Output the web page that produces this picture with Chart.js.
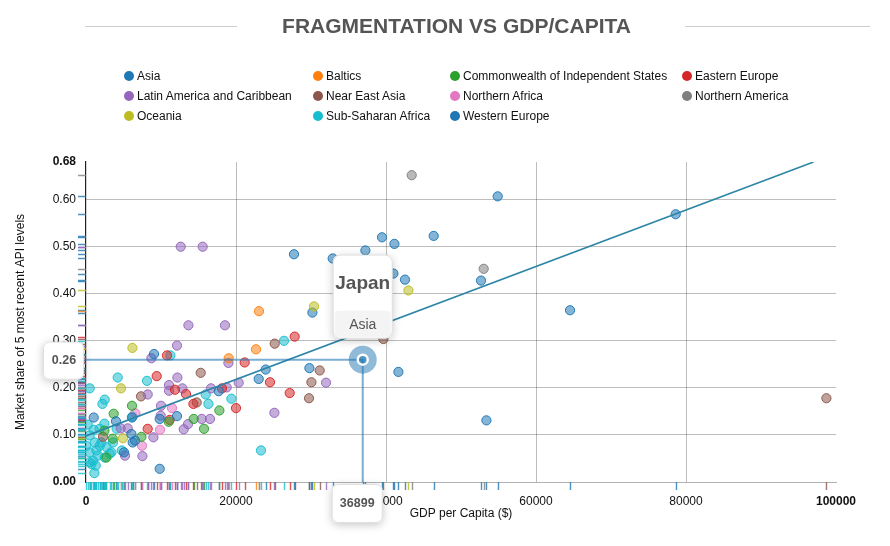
<!DOCTYPE html>
<html>
<head>
<meta charset="utf-8">
<script src="https://cdn.jsdelivr.net/npm/chart.js@4/dist/chart.umd.min.js"></script>
<style>
  body { margin: 0; background: #fff; font-family: 'Liberation Sans', Arial, sans-serif; }
  #wrap { position: relative; width: 890px; height: 546px; overflow: hidden; }
  #chart { position: absolute; left: 0; top: 0; }
  #title { position: absolute; left: 0; width: 913px; top: 15px; text-align: center; font-size: 21px; line-height: 22px; font-weight: bold; color: #555; }
  .rule { position: absolute; height: 1px; top: 26px; background: #ccc; }
  .item { position: absolute; font-size: 12px; line-height: 14px; color: #111; white-space: nowrap; }
  .item i { position: absolute; left: 0; top: 2px; width: 10px; height: 10px; border-radius: 50%; }
  .item span { margin-left: 13px; }
</style>
</head>
<body>
<div id="wrap">
  <canvas id="chart" width="890" height="546"></canvas>
  <div class="rule" style="left:85px;width:152px"></div>
  <div class="rule" style="left:685px;width:185px"></div>
  <div id="title">FRAGMENTATION VS GDP/CAPITA</div>
  <div id="legend"></div>
</div>
<script>
const regions = ['Asia', 'Baltics', 'Commonwealth of Independent States', 'Eastern Europe',
  'Latin America and Caribbean', 'Near East Asia', 'Northern Africa', 'Northern America',
  'Oceania', 'Sub-Saharan Africa', 'Western Europe'];
const colors = ['#1f77b4', '#ff7f0e', '#2ca02c', '#d62728', '#9467bd', '#8c564b',
  '#e377c2', '#7f7f7f', '#bcbd22', '#17becf', '#1f77b4'];

// [GDP per capita, market share]
const asia = [[36899, 0.26], [64533, 0.365], [53387, 0.131], [41653, 0.234], [23960, 0.239],
  [23027, 0.219], [17693, 0.193], [12133, 0.140], [9827, 0.134], [9067, 0.272], [6133, 0.137],
  [4000, 0.129], [1027, 0.137], [6533, 0.088], [6227, 0.084], [6053, 0.102], [5067, 0.063], [9827, 0.028]];
const baltics = [[23067, 0.363], [22667, 0.282], [19027, 0.263]];
const cis = [[3693, 0.145], [6133, 0.162], [7387, 0.096], [11027, 0.128], [14360, 0.134],
  [15733, 0.113], [17787, 0.152], [2453, 0.109], [2720, 0.052], [3560, 0.092]];
const easternEurope = [[27827, 0.309], [21160, 0.254], [24533, 0.212], [27160, 0.189], [20000, 0.157],
  [18133, 0.199], [13333, 0.187], [14320, 0.166], [11867, 0.196], [10800, 0.269], [9427, 0.225],
  [11160, 0.132], [8227, 0.113]];
const latinAmerica = [[12627, 0.50], [15560, 0.50], [13653, 0.333], [18533, 0.333], [12133, 0.290],
  [8720, 0.263], [18987, 0.253], [12187, 0.222], [20360, 0.211], [11067, 0.206], [11067, 0.194],
  [12853, 0.199], [8227, 0.186], [16667, 0.199], [18760, 0.201], [32000, 0.211], [10000, 0.162],
  [9960, 0.141], [13600, 0.123], [13027, 0.112], [15427, 0.134], [16533, 0.134], [8987, 0.095],
  [7520, 0.055], [5200, 0.056], [4627, 0.114], [5560, 0.114], [25120, 0.147]];
const nearEastAsia = [[25160, 0.294], [39653, 0.304], [15293, 0.232], [7333, 0.182], [14760, 0.169],
  [30053, 0.212], [31160, 0.237], [29733, 0.178], [98720, 0.178], [2267, 0.096]];
const northernAfrica = [[6587, 0.146], [11467, 0.157], [9867, 0.111], [7467, 0.077]];
const northernAmerica = [[43427, 0.652], [53027, 0.453]];
const oceania = [[6187, 0.285], [4667, 0.199], [30400, 0.373], [42987, 0.407], [4933, 0.093]];
const subSaharan = [[2493, 0.175], [2187, 0.166], [4227, 0.222], [8133, 0.215], [493, 0.199],
  [11253, 0.269], [15960, 0.186], [16320, 0.166], [19387, 0.177], [26400, 0.300], [23333, 0.067],
  [1827, 0.113], [1027, 0.111], [1160, 0.084], [1827, 0.077], [3160, 0.060], [493, 0.063],
  [933, 0.045], [493, 0.042], [1600, 0.056], [2493, 0.052], [3387, 0.063], [493, 0.099],
  [53, 0.077], [2053, 0.084], [1387, 0.067], [3600, 0.084], [2720, 0.074], [720, 0.038],
  [1293, 0.035], [1120, 0.019], [4760, 0.067], [6187, 0.139], [2453, 0.124], [227, 0.122], [4093, 0.113]];
const westernEurope = [[54893, 0.607], [78627, 0.569], [46360, 0.523], [39467, 0.520], [41120, 0.506],
  [27733, 0.484], [37253, 0.492], [32893, 0.475], [40987, 0.443], [42533, 0.430], [52667, 0.428],
  [30187, 0.360], [29787, 0.242]];

const seriesPoints = [asia, baltics, cis, easternEurope, latinAmerica, nearEastAsia,
  northernAfrica, northernAmerica, oceania, subSaharan, westernEurope];

// regression line end points
const trendX = [0, 97000];
const trendY = [0.098, 0.68];

const xTicks = [0, 20000, 40000, 60000, 80000, 100000];
const yTicks = [0, 0.1, 0.2, 0.3, 0.4, 0.5, 0.6, 0.68];

// highlighted point (tooltip)
const highlight = { region: 'Asia', index: 0, name: 'Japan' };

function rgba(hex, a) {
  const n = parseInt(hex.slice(1), 16);
  return 'rgba(' + (n >> 16) + ',' + ((n >> 8) & 255) + ',' + (n & 255) + ',' + a + ')';
}

// legend
const legend = document.getElementById('legend');
const colX = [129, 318, 455, 687];
const rowY = [76, 96, 116];
regions.forEach(function (r, i) {
  const d = document.createElement('div');
  d.className = 'item';
  d.style.left = (colX[i % 4] - 5) + 'px';
  d.style.top = (rowY[Math.floor(i / 4)] - 7) + 'px';
  d.innerHTML = '<i style="background:' + colors[i] + '"></i><span>' + r + '</span>';
  legend.appendChild(d);
});

const FONT = "'Liberation Sans', Arial, sans-serif";

const datasets = [{
  type: 'line',
  label: 'trend',
  data: trendX.map((x, i) => ({ x: x, y: trendY[i] })),
  borderColor: '#2c86a6',
  borderWidth: 1.6,
  pointRadius: 0,
  fill: false
}];
regions.forEach(function (r, i) {
  datasets.push({
    label: r,
    data: seriesPoints[i].map(p => ({ x: p[0], y: p[1] })),
    backgroundColor: rgba(colors[i], 0.55),
    borderColor: rgba(colors[i], 0.95),
    borderWidth: 1,
    pointRadius: 4.6
  });
});

const rugPlugin = {
  id: 'rug',
  beforeDatasetsDraw(chart) {
    const { ctx, chartArea, scales } = chart;
    ctx.save();
    ctx.lineWidth = 1.4;
    chart.data.datasets.forEach(function (ds) {
      if (ds.type === 'line') return;
      ctx.strokeStyle = ds.backgroundColor.replace(/[\d.]+\)$/, '0.8)');
      ds.data.forEach(function (p) {
        const px = Math.round(scales.x.getPixelForValue(p.x)) + 0.5;
        const py = Math.round(scales.y.getPixelForValue(p.y)) + 0.5;
        ctx.beginPath();
        ctx.moveTo(px, chartArea.bottom);
        ctx.lineTo(px, chartArea.bottom + 8);
        ctx.moveTo(chartArea.left - 8, py);
        ctx.lineTo(chartArea.left, py);
        ctx.stroke();
      });
    });
    ctx.restore();
  }
};

function roundBox(ctx, x, y, w, h, r, fill, shadow) {
  ctx.save();
  if (shadow) {
    ctx.shadowColor = 'rgba(0,0,0,0.22)';
    ctx.shadowBlur = 8;
    ctx.shadowOffsetY = 2;
  }
  ctx.beginPath();
  ctx.roundRect(x, y, w, h, r);
  ctx.fillStyle = fill;
  ctx.fill();
  ctx.restore();
  ctx.save();
  ctx.beginPath();
  ctx.roundRect(x + 0.5, y + 0.5, w - 1, h - 1, r);
  ctx.strokeStyle = 'rgba(0,0,0,0.12)';
  ctx.lineWidth = 1;
  ctx.stroke();
  ctx.restore();
}

const guidePlugin = {
  id: 'guide',
  afterDraw(chart) {
    const { ctx, chartArea, scales } = chart;
    const ri = regions.indexOf(highlight.region);
    const p = seriesPoints[ri][highlight.index];
    const px = scales.x.getPixelForValue(p[0]);
    const py = scales.y.getPixelForValue(p[1]);
    const col = colors[ri];
    ctx.save();
    // guide lines
    ctx.strokeStyle = rgba(col, 0.6);
    ctx.lineWidth = 2;
    ctx.beginPath();
    ctx.moveTo(chartArea.left, py);
    ctx.lineTo(px, py);
    ctx.lineTo(px, chartArea.bottom);
    ctx.stroke();
    // highlighted point
    ctx.fillStyle = rgba(col, 0.5);
    ctx.beginPath(); ctx.arc(px, py, 14, 0, Math.PI * 2); ctx.fill();
    ctx.strokeStyle = '#fff';
    ctx.lineWidth = 2.5;
    ctx.beginPath(); ctx.arc(px, py, 5, 0, Math.PI * 2); ctx.stroke();
    ctx.restore();

    // axis value boxes
    ctx.save();
    roundBox(ctx, 43, py - 18, 41, 38, 6, '#fff', true);
    roundBox(ctx, px - 31, chartArea.bottom + 2, 51, 39, 6, '#fff', true);
    ctx.fillStyle = '#555';
    ctx.font = 'bold 12.5px ' + FONT;
    ctx.textAlign = 'center';
    ctx.textBaseline = 'middle';
    ctx.fillText(p[1].toFixed(2), 64, py + 1);
    ctx.fillText(String(p[0]), px - 5.5, chartArea.bottom + 22);

    // tooltip
    const tx = px - 30, ty = py - 105;
    roundBox(ctx, tx, ty, 60, 84, 7, '#fff', true);
    ctx.fillStyle = '#f4f4f4';
    ctx.beginPath();
    ctx.roundRect(tx + 2, ty + 56, 56, 26, 4);
    ctx.fill();
    ctx.fillStyle = '#555';
    ctx.font = 'bold 19px ' + FONT;
    ctx.fillText(highlight.name, px, ty + 29);
    ctx.font = '14px ' + FONT;
    ctx.fillText(highlight.region, px, ty + 70);
    ctx.restore();
  }
};

const gridColor = 'rgba(0,0,0,0.26)';

new Chart(document.getElementById('chart'), {
  type: 'scatter',
  data: { datasets: datasets },
  options: {
    responsive: false,
    animation: false,
    devicePixelRatio: 1,
    layout: { padding: { top: 162, right: 54, left: 0, bottom: 0 } },
    plugins: { legend: { display: false }, tooltip: { enabled: false } },
    scales: {
      x: {
        type: 'linear',
        min: 0,
        max: 100000,
        afterBuildTicks: (scale) => { scale.ticks = xTicks.map(v => ({ value: v })); },
        afterFit: (scale) => { scale.height = 64; },
        grid: {
          drawTicks: false,
          color: (c) => (c.tick && (c.tick.value === 0 || c.tick.value === 100000)) ? 'rgba(0,0,0,0)' : gridColor
        },
        border: { color: 'rgba(0,0,0,0.3)', width: 1 },
        ticks: {
          padding: 12,
          color: '#111',
          maxRotation: 0,
          callback: (v) => String(v),
          font: (c) => ({ family: FONT, size: 12, weight: (c.tick && (c.tick.value === 0 || c.tick.value === 100000)) ? 'bold' : 'normal' })
        },
        title: {
          display: true,
          text: 'GDP per Capita ($)',
          color: '#111',
          font: { family: FONT, size: 12 },
          padding: { top: 0, bottom: 25 }
        }
      },
      y: {
        min: 0,
        max: 0.68,
        afterBuildTicks: (scale) => { scale.ticks = yTicks.map(v => ({ value: v })); },
        afterFit: (scale) => { scale.width = 86; },
        grid: {
          drawTicks: false,
          color: (c) => (c.tick && (c.tick.value === 0 || c.tick.value === 0.68)) ? 'rgba(0,0,0,0)' : gridColor
        },
        border: { color: '#222', width: 1.2 },
        ticks: {
          padding: 10,
          color: '#111',
          callback: (v) => v.toFixed(2),
          font: (c) => ({ family: FONT, size: 12, weight: (c.tick && (c.tick.value === 0 || c.tick.value === 0.68)) ? 'bold' : 'normal' })
        },
        title: {
          display: true,
          text: 'Market share of 5 most recent API levels',
          color: '#111',
          font: { family: FONT, size: 12 },
          padding: { top: 13, bottom: 0 }
        }
      }
    }
  },
  plugins: [rugPlugin, guidePlugin]
});
</script>
</body>
</html>
